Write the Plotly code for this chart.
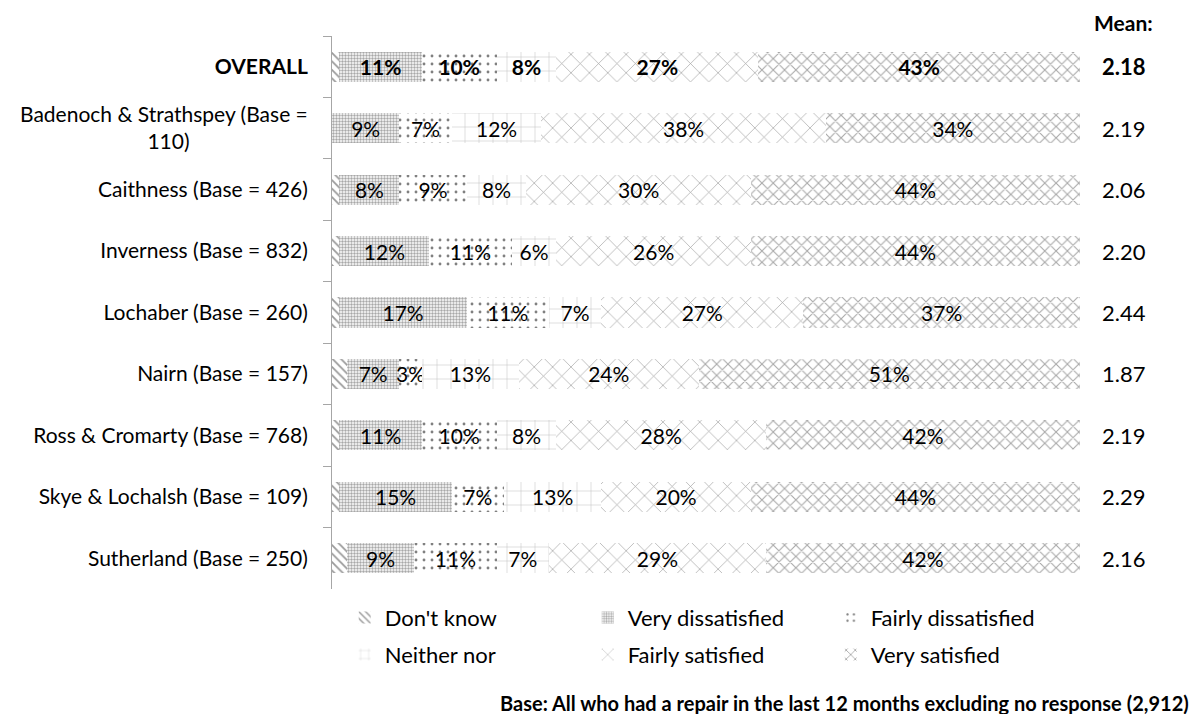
import plotly.graph_objects as go

# data
areas = [
    "<b>OVERALL</b>",
    "Badenoch & Strathspey (Base =<br>110)" + "&nbsp;" * 22,
    "Caithness (Base = 426)",
    "Inverness (Base = 832)",
    "Lochaber (Base = 260)",
    "Nairn (Base = 157)",
    "Ross & Cromarty (Base = 768)",
    "Skye & Lochalsh (Base = 109)",
    "Sutherland (Base = 250)",
]
dont_know = [1, 0, 1, 1, 1, 2, 1, 1, 2]
very_dissatisfied = [11, 9, 8, 12, 17, 7, 11, 15, 9]
fairly_dissatisfied = [10, 7, 9, 11, 11, 3, 10, 7, 11]
neither_nor = [8, 12, 8, 6, 7, 13, 8, 13, 7]
fairly_satisfied = [27, 38, 30, 26, 27, 24, 28, 20, 29]
very_satisfied = [43, 34, 44, 44, 37, 51, 42, 44, 42]
means = ["2.18", "2.19", "2.06", "2.20", "2.44", "1.87", "2.19", "2.29", "2.16"]

# name, values, fill pattern, label the segments?, which legend row
series = [
    ("Don't know", dont_know, dict(shape="\\", fgcolor="#9a9a9a", size=6, solidity=0.3), False, "legend"),
    ("Very dissatisfied", very_dissatisfied, dict(shape=".", fgcolor="#a8a8a8", size=3, solidity=0.5), True, "legend"),
    ("Fairly dissatisfied", fairly_dissatisfied, dict(shape=".", fgcolor="#808080", size=8, solidity=0.1), True, "legend"),
    ("Neither nor", neither_nor, dict(shape="+", fgcolor="#bdbdbd", size=14, solidity=0.07), True, "legend2"),
    ("Fairly satisfied", fairly_satisfied, dict(shape="x", fgcolor="#a0a0a0", size=13, solidity=0.1), True, "legend2"),
    ("Very satisfied", very_satisfied, dict(shape="x", fgcolor="#a8a8a8", size=8, solidity=0.25), True, "legend2"),
]

font = "Lato, 'Open Sans', sans-serif"

fig = go.Figure()
for name, vals, pat, show_text, leg in series:
    if show_text:
        text = [f"<b>{v}%</b>" if i == 0 else f"{v}%" for i, v in enumerate(vals)]
    else:
        text = ["" for v in vals]
    pat = dict(pat, bgcolor="white", fillmode="replace")
    fig.add_trace(go.Bar(
        y=areas, x=vals, name=name, orientation="h", legend=leg,
        text=text, textposition="inside", insidetextanchor="middle",
        textangle=0, textfont=dict(color="black", size=21, family=font),
        marker=dict(color="white", pattern=pat, line=dict(width=0)),
        hoverinfo="skip",
    ))

# mean column on the right
for area, m in zip(areas, means):
    fig.add_annotation(
        x=1.0266, xref="paper", y=area, yref="y", xanchor="left",
        text=f"<b>{m}</b>" if area.startswith("<b>") else m,
        showarrow=False, font=dict(size=22, family=font, color="black"),
    )

fig.add_annotation(
    x=1.0585, xref="paper", y=1.025, yref="paper", xanchor="center", yanchor="middle",
    text="<b>Mean:</b>", showarrow=False,
    font=dict(size=21, family=font, color="black"),
)
fig.add_annotation(
    x=1.149, xref="paper", y=-0.206, yref="paper", xanchor="right", yanchor="middle",
    text="<b>Base: All who had a repair in the last 12 months excluding no response (2,912)</b>",
    showarrow=False, font=dict(size=20, family=font, color="black"),
)

legend_style = dict(
    orientation="h", x=0.017, xanchor="left", yanchor="middle",
    entrywidth=198, traceorder="normal", itemwidth=30,
    font=dict(size=22, family=font, color="black"),
)

# the page body has an 8px margin, so the figure is 8px smaller each way
fig.update_layout(
    width=1192, height=706,
    barmode="stack", bargap=0.51,
    plot_bgcolor="white", paper_bgcolor="white",
    margin=dict(l=320, r=120, t=28, b=125),
    font=dict(family=font, size=21, color="black"),
    uniformtext=dict(minsize=21, mode="show"),
    legend=dict(legend_style, y=-0.052),
    legend2=dict(legend_style, y=-0.119),
    xaxis=dict(range=[0, 100], visible=False, fixedrange=True),
    yaxis=dict(
        autorange="reversed", showline=True, linecolor="#a6a6a6", linewidth=1,
        ticks="outside", tickson="boundaries", ticklen=8, tickcolor="#a6a6a6",
        tickfont=dict(size=21, family=font, color="black"), ticklabelstandoff=19,
        showgrid=False,
    ),
)

fig.write_html("out.html")
